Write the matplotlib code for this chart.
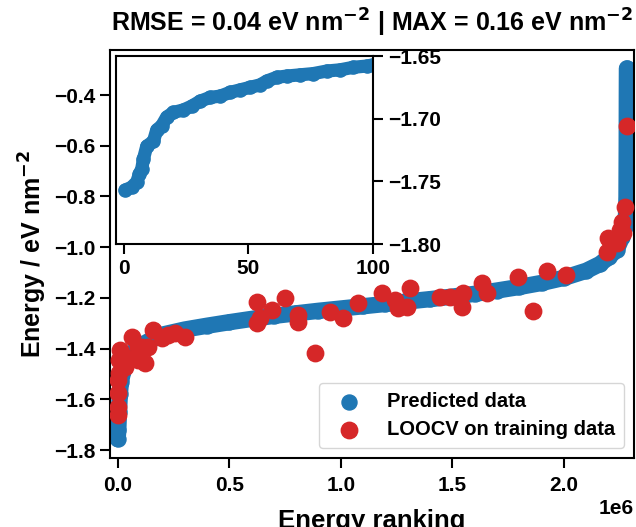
import matplotlib
matplotlib.use('Agg')
import matplotlib.pyplot as plt
import numpy as np

plt.rcParams['font.family'] = ['Liberation Sans', 'DejaVu Sans']
plt.rcParams['font.weight'] = 'bold'
plt.rcParams['axes.labelweight'] = 'bold'
plt.rcParams['axes.titleweight'] = 'bold'
plt.rcParams['axes.linewidth'] = 1.5

# curva das energias previstas (ranking em milhoes)
pred_rank = [0.000, 0.003, 0.006, 0.010, 0.015, 0.025, 0.040, 0.060, 0.100, 0.150,
             0.200, 0.300, 0.400, 0.500, 0.600, 0.700, 0.800, 0.900, 1.000, 1.100,
             1.200, 1.300, 1.400, 1.500, 1.600, 1.700, 1.800, 1.900, 2.000, 2.100,
             2.160, 2.200, 2.236, 2.260, 2.272, 2.278, 2.280, 2.281, 2.2815, 2.282]
pred_energy = [-1.757, -1.72, -1.65, -1.58, -1.53, -1.49, -1.45, -1.42, -1.39, -1.365,
               -1.345, -1.325, -1.31, -1.296, -1.283, -1.271, -1.261, -1.251, -1.242, -1.233,
               -1.224, -1.214, -1.205, -1.195, -1.184, -1.171, -1.157, -1.141, -1.121, -1.093,
               -1.067, -1.04, -1.01, -0.96, -0.92, -0.87, -0.80, -0.60, -0.40, -0.295]

# LOOCV nos dados de treino
loocv_rank = [0.003, 0.003, 0.003, 0.003, 0.005, 0.008, 0.010, 0.033, 0.033, 0.063,
              0.078, 0.093, 0.093, 0.108, 0.123, 0.138, 0.160, 0.198, 0.227, 0.257,
              0.302, 0.623, 0.623, 0.638, 0.690, 0.750, 0.810, 0.810, 0.884, 0.952,
              1.011, 1.078, 1.183, 1.243, 1.258, 1.295, 1.310, 1.444, 1.489, 1.542,
              1.549, 1.631, 1.654, 1.792, 1.860, 1.922, 2.008, 2.191, 2.199, 2.206,
              2.236, 2.251, 2.258, 2.266, 2.273, 2.281]
loocv_energy = [-1.662, -1.63, -1.577, -1.524, -1.498, -1.445, -1.406, -1.472, -1.432, -1.356,
                -1.439, -1.393, -1.445, -1.393, -1.457, -1.393, -1.327, -1.36, -1.347, -1.34,
                -1.353, -1.215, -1.301, -1.281, -1.248, -1.202, -1.268, -1.294, -1.417, -1.255,
                -1.281, -1.219, -1.182, -1.209, -1.241, -1.235, -1.163, -1.198, -1.198, -1.235,
                -1.18, -1.143, -1.18, -1.117, -1.251, -1.093, -1.111, -1.018, -0.965, -0.97,
                -0.985, -0.933, -0.90, -0.946, -0.841, -0.522]

# primeiros 100 pontos (inset)
inset_idx = [0.7, 3.3, 5.3, 6.4, 7.3, 8.0, 9.3, 12.0, 13.3, 15.3, 17.3, 20.0, 24.0, 27.3,
             30.7, 34.7, 38.7, 42.7, 46.7, 50.7, 54.7, 57.3, 61.3, 65.3, 70.7, 76.0,
             81.3, 86.7, 92.0, 97.3, 100.0]
inset_energy = [-1.757, -1.7546, -1.7505, -1.744, -1.740, -1.732, -1.722, -1.718, -1.709,
                -1.7056, -1.6987, -1.695, -1.693, -1.690, -1.686, -1.683, -1.682, -1.679,
                -1.677, -1.675, -1.673, -1.670, -1.667, -1.666, -1.665, -1.664, -1.662,
                -1.661, -1.659, -1.658, -1.657]

blue = '#1f77b4'
red = '#d62728'

fig = plt.figure(figsize=(6.36, 5.27), dpi=100)
ax = fig.add_axes([0.173, 0.1309, 0.824, 0.7742])

x_pred = np.array(pred_rank) * 1e6
ax.plot(x_pred, pred_energy, color=blue, lw=11.8, solid_capstyle='round',
        solid_joinstyle='round', zorder=2)
ax.scatter(x_pred, pred_energy, s=117, color=blue, label='Predicted data', zorder=2)
ax.scatter(np.array(loocv_rank) * 1e6, loocv_energy, s=140, color=red,
           label='LOOCV on training data', zorder=3)

ax.set_xlim(-0.034e6, 2.314e6)
ax.set_ylim(-1.8316, -0.2225)
ax.set_yticks([-1.8, -1.6, -1.4, -1.2, -1.0, -0.8, -0.6, -0.4])
ax.set_xticks([0, 0.5e6, 1.0e6, 1.5e6, 2.0e6])
ax.tick_params(labelsize=15, length=7, width=1.5)
ax.tick_params(axis='x', pad=6)
ax.xaxis.get_offset_text().set_fontsize(15)
ax.xaxis.get_offset_text().set_fontweight('bold')
ax.set_xlabel('Energy ranking', fontsize=18.5, labelpad=10)
ax.set_ylabel('Energy / eV nm$^{\\mathbf{-2}}$', fontsize=18)
ax.set_title('RMSE = 0.04 eV nm$^{\\mathbf{-2}}$ | MAX = 0.16 eV nm$^{\\mathbf{-2}}$',
             fontsize=18, pad=13)
ax.legend(loc='lower right', fontsize=14.5, handletextpad=0.9, borderpad=0.45,
          labelspacing=0.45)

# inset
axin = fig.add_axes([0.1824, 0.537, 0.4046, 0.3567])
axin.plot(inset_idx, inset_energy, color=blue, lw=9.5, solid_capstyle='round',
          solid_joinstyle='round')
axin.scatter(inset_idx, inset_energy, s=90, color=blue)
axin.set_xlim(-3, 100)
axin.set_ylim(-1.80, -1.65)
axin.set_xticks([0, 50, 100])
axin.set_yticks([-1.80, -1.75, -1.70, -1.65])
axin.yaxis.tick_right()
axin.tick_params(labelsize=15, length=7, width=1.5)

fig.savefig('out.png', dpi=100)
